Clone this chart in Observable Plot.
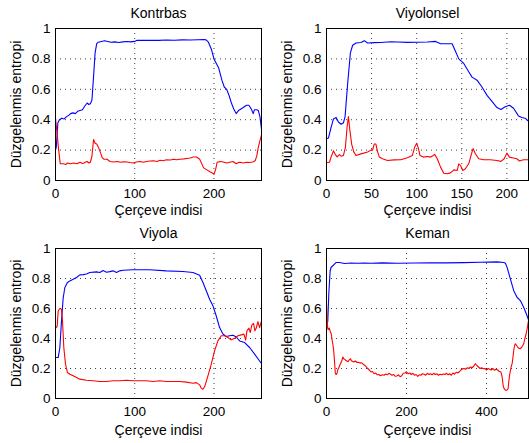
<!DOCTYPE html>
<html><head><meta charset="utf-8">
<script src="https://cdn.jsdelivr.net/npm/d3@7"></script>
<script src="https://cdn.jsdelivr.net/npm/@observablehq/plot@0.6"></script>
<style>
body{margin:0;background:#fff;}
#chart{position:relative;width:529px;height:443px;overflow:hidden;background:#fff;}
#chart > svg{position:absolute;}
</style></head><body><div id="chart"></div>
<script>
// ---- data (frame index, normalized entropy) ----
const yTicks = [0, 0.2, 0.4, 0.6, 0.8, 1];
const yLabel = "Düzgelenmis entropi";
const xLabel = "Çerçeve indisi";

const kontrbasTicks = [0, 100, 200];
const kontrbasBlue = [[0,0.2],[1,0.22],[2,0.3],[3,0.38],[5,0.40],[8,0.41],[11,0.405],[14,0.42],[17,0.43],[19,0.44],[22,0.445],[25,0.44],[28,0.455],[31,0.46],[34,0.465],[37,0.49],[40,0.51],[42,0.50],[44,0.505],[46,0.53],[48,0.68],[50,0.84],[52,0.90],[54,0.91],[58,0.915],[62,0.92],[66,0.915],[70,0.91],[75,0.912],[80,0.908],[85,0.912],[90,0.914],[95,0.912],[100,0.915],[103,0.922],[110,0.922],[120,0.923],[130,0.922],[140,0.924],[150,0.923],[160,0.925],[170,0.924],[180,0.926],[187,0.928],[190,0.925],[193,0.91],[197,0.86],[200,0.80],[203,0.77],[206,0.74],[210,0.66],[213,0.615],[216,0.60],[219,0.56],[222,0.51],[225,0.47],[228,0.44],[231,0.46],[234,0.47],[237,0.48],[241,0.495],[244,0.495],[246,0.48],[248,0.46],[249.5,0.44],[251,0.465],[254,0.465],[256,0.46],[258,0.42],[260,0.34]];
const kontrbasRed = [[0,0.41],[2,0.31],[4,0.2],[6,0.11],[10,0.11],[13,0.105],[15,0.115],[19,0.11],[23,0.115],[27,0.11],[31,0.12],[34,0.112],[36,0.115],[38,0.122],[40,0.125],[42,0.115],[44,0.12],[46,0.16],[48,0.27],[50,0.245],[52,0.24],[54.5,0.215],[57,0.18],[59,0.15],[61,0.14],[65,0.14],[69,0.125],[73,0.122],[78,0.125],[82,0.12],[86,0.123],[90,0.122],[94,0.118],[98,0.115],[102,0.122],[107,0.125],[111,0.12],[115,0.125],[119,0.128],[124,0.13],[128,0.125],[132,0.133],[136,0.13],[140,0.137],[145,0.135],[149,0.14],[153,0.137],[157,0.14],[162,0.142],[166,0.145],[170,0.148],[174,0.155],[178,0.155],[182,0.14],[187,0.083],[191,0.07],[195,0.057],[199,0.046],[200,0.04],[202,0.07],[204,0.12],[208,0.125],[212,0.122],[216,0.115],[220,0.12],[224,0.125],[228,0.11],[231,0.118],[233,0.12],[237,0.115],[241,0.12],[245,0.118],[249,0.122],[252,0.13],[254,0.16],[256,0.22],[258,0.26],[260,0.3]];

const viyolonselTicks = [0, 50, 100, 150, 200];
const viyolonselBlue = [[0,0.275],[2.2,0.28],[5.1,0.35],[7.7,0.405],[10.7,0.415],[13.2,0.385],[16.2,0.37],[18.8,0.38],[20.6,0.42],[23.5,0.64],[26.5,0.84],[29,0.89],[32.7,0.905],[38.2,0.908],[41.9,0.92],[45.6,0.905],[53,0.907],[60.3,0.908],[71.3,0.913],[78.7,0.911],[89.7,0.909],[100.7,0.91],[111.8,0.911],[121,0.915],[126.5,0.90],[133.8,0.9],[139.3,0.9],[143,0.85],[146.7,0.80],[152.2,0.77],[157.7,0.715],[161.4,0.68],[166.9,0.66],[172.4,0.615],[178,0.56],[183.5,0.52],[189,0.48],[193.4,0.467],[198.2,0.485],[202.9,0.495],[207.4,0.475],[212.9,0.425],[216.5,0.415],[220.2,0.41],[224,0.39]];
const viyolonselRed = [[0,0.117],[3.3,0.12],[5.1,0.155],[7.7,0.195],[9.9,0.17],[11.8,0.155],[14.3,0.17],[16.2,0.16],[18.8,0.165],[21,0.22],[22.8,0.35],[24.3,0.42],[25.7,0.34],[27.9,0.24],[30.1,0.19],[32.7,0.165],[38.2,0.175],[45.6,0.187],[49.3,0.2],[51.1,0.2],[52.9,0.24],[54.8,0.24],[56.6,0.19],[58.5,0.155],[62.1,0.143],[67.6,0.132],[75,0.136],[82.4,0.137],[89.7,0.15],[95.2,0.165],[97.8,0.22],[100,0.245],[101.5,0.22],[103.7,0.165],[107.4,0.154],[111.8,0.158],[115.4,0.154],[118.4,0.165],[119.9,0.172],[122.8,0.143],[126.5,0.088],[130.1,0.048],[133.8,0.044],[137.5,0.05],[141.2,0.07],[144.9,0.066],[146.7,0.11],[148.5,0.1],[151.1,0.066],[154,0.077],[157.7,0.11],[160.3,0.165],[162.5,0.21],[165.1,0.176],[168.8,0.143],[174.3,0.137],[181.6,0.137],[189,0.132],[193.4,0.126],[197.1,0.143],[200,0.18],[202.9,0.154],[207.4,0.148],[211,0.143],[214,0.128],[218.4,0.137],[224,0.137]];

const viyolaTicks = [0, 100, 200];
const viyolaBlue = [[0,0.273],[3.4,0.273],[5.5,0.34],[7.6,0.52],[9.7,0.67],[11.8,0.74],[15.1,0.773],[18.1,0.784],[22.3,0.795],[26.5,0.807],[30.7,0.824],[34.9,0.826],[39.1,0.83],[43.3,0.84],[51.7,0.844],[55.9,0.84],[60.1,0.853],[64.3,0.842],[68.5,0.846],[72.7,0.851],[76.9,0.84],[81.1,0.851],[85.3,0.855],[97.9,0.858],[118.9,0.858],[139.9,0.851],[160.9,0.847],[173.5,0.84],[181.9,0.822],[186.1,0.773],[190.3,0.718],[194.5,0.662],[198.7,0.618],[202.9,0.55],[207.1,0.473],[211.3,0.43],[215.5,0.413],[219.7,0.418],[223.9,0.422],[228.2,0.41],[232.4,0.384],[238.7,0.373],[245,0.34],[251.3,0.296],[257.6,0.25],[260,0.233]];
const viyolaRed = [[0,0.47],[2.1,0.48],[3.4,0.585],[5.5,0.6],[7.6,0.595],[8.8,0.52],[10.5,0.34],[12.6,0.23],[15.1,0.173],[18.1,0.162],[22.3,0.151],[26.5,0.14],[30.7,0.129],[39.1,0.122],[47.5,0.118],[55.9,0.113],[64.3,0.113],[72.7,0.118],[81.1,0.118],[89.5,0.122],[97.9,0.118],[106.3,0.118],[114.7,0.118],[123.1,0.113],[131.5,0.118],[139.9,0.113],[156.7,0.113],[165.1,0.109],[173.5,0.102],[177.7,0.106],[181.9,0.091],[184,0.069],[186.1,0.062],[188.2,0.078],[192.4,0.151],[196.6,0.229],[200.8,0.318],[205,0.384],[209.2,0.418],[213.4,0.418],[217.6,0.407],[221.8,0.391],[226.1,0.402],[230.3,0.418],[234.5,0.424],[237.8,0.429],[240,0.389],[241.6,0.451],[244.1,0.469],[245.8,0.44],[247.9,0.491],[250,0.5],[251.7,0.451],[253.4,0.47],[255.5,0.513],[257.6,0.473],[260,0.518]];

const kemanTicks = [0, 200, 400];
const kemanBlue = [[0,0.45],[3.3,0.52],[5.8,0.70],[9.1,0.85],[11.6,0.875],[15.8,0.885],[19.9,0.896],[24.1,0.907],[32.4,0.907],[44.8,0.9],[61.4,0.903],[78,0.902],[94.6,0.903],[111.2,0.902],[140,0.904],[177.6,0.902],[220,0.903],[260.6,0.905],[300,0.904],[343.6,0.906],[385,0.908],[426.6,0.911],[443.2,0.907],[447.3,0.902],[451.5,0.874],[459.8,0.796],[468.1,0.719],[476.3,0.675],[484.6,0.653],[492.9,0.608],[501.2,0.553],[505,0.524]];
const kemanRed = [[0,0.63],[2,0.52],[3,0.47],[5,0.46],[7,0.47],[9,0.45],[12,0.43],[14,0.39],[16,0.36],[18,0.32],[20,0.25],[22,0.17],[24,0.16],[26,0.165],[28,0.19],[30,0.2],[33,0.22],[35,0.232],[38,0.25],[41,0.277],[43,0.265],[45,0.262],[48,0.255],[51,0.25],[54,0.245],[57,0.258],[60,0.265],[62,0.252],[65,0.248],[68,0.243],[72,0.25],[76,0.24],[80,0.242],[84,0.236],[88,0.238],[92,0.228],[95,0.222],[99,0.212],[103,0.2],[107,0.19],[111,0.177],[115,0.18],[119,0.165],[123,0.17],[127,0.158],[131,0.16],[135,0.152],[140,0.158],[144,0.155],[148,0.163],[152,0.158],[156,0.168],[160,0.162],[164,0.155],[168,0.16],[172,0.148],[176,0.15],[180,0.158],[184,0.145],[188,0.152],[192,0.168],[196,0.17],[200,0.178],[204,0.165],[208,0.17],[212,0.16],[216,0.168],[220,0.155],[224,0.16],[228,0.148],[232,0.158],[236,0.155],[240,0.165],[244,0.162],[248,0.155],[252,0.168],[256,0.16],[260,0.165],[264,0.158],[268,0.168],[272,0.16],[276,0.165],[280,0.155],[284,0.162],[288,0.158],[292,0.163],[296,0.16],[300,0.168],[304,0.158],[308,0.165],[312,0.155],[316,0.17],[320,0.162],[324,0.175],[328,0.17],[332,0.178],[336,0.19],[340,0.198],[344,0.2],[348,0.195],[352,0.205],[356,0.2],[360,0.21],[364,0.205],[368,0.215],[372,0.232],[376,0.22],[380,0.21],[384,0.2],[388,0.205],[392,0.198],[396,0.2],[400,0.19],[404,0.2],[408,0.195],[412,0.19],[416,0.2],[420,0.188],[424,0.195],[428,0.19],[432,0.18],[436,0.178],[439,0.145],[442,0.08],[445,0.062],[448,0.055],[451,0.056],[454,0.065],[456,0.12],[458,0.16],[460,0.19],[462,0.215],[464,0.232],[466,0.27],[468,0.32],[470,0.35],[472,0.365],[475,0.355],[478,0.343],[481,0.335],[484,0.332],[487,0.338],[490,0.35],[493,0.365],[496,0.4],[499,0.43],[502,0.47],[505,0.52]];

// ---- layout ----
const FONT = '"Liberation Sans", Arial, Helvetica, sans-serif';
const panels = [
  {title: "Kontrbas", blue: kontrbasBlue, red: kontrbasRed, ticks: kontrbasTicks, xmax: 260,
   left: 0, top: 0, w: 264, h: 220, ml: 55, mr: 3, mt: 28, mb: 40, xl: 30},
  {title: "Viyolonsel", blue: viyolonselBlue, red: viyolonselRed, ticks: viyolonselTicks, xmax: 224,
   left: 264, top: 0, w: 265, h: 220, ml: 62, mr: 1, mt: 28, mb: 40, xl: 30},
  {title: "Viyola", blue: viyolaBlue, red: viyolaRed, ticks: viyolaTicks, xmax: 260,
   left: 0, top: 220, w: 264, h: 223, ml: 55, mr: 3, mt: 28, mb: 45, xl: 32},
  {title: "Keman", blue: kemanBlue, red: kemanRed, ticks: kemanTicks, xmax: 505,
   left: 264, top: 220, w: 265, h: 223, ml: 62, mr: 1, mt: 28, mb: 45, xl: 32}
];

const chart = document.getElementById("chart");
for (const p of panels) {
  const svg = Plot.plot({
    width: p.w, height: p.h,
    marginLeft: p.ml, marginRight: p.mr, marginTop: p.mt, marginBottom: p.mb,
    style: {fontFamily: FONT, fontSize: "13px", background: "white", overflow: "visible", color: "black"},
    x: {domain: [0, p.xmax]},
    y: {domain: [0, 1]},
    marks: [
      Plot.gridX(p.ticks, {stroke: "black", strokeOpacity: 0.75, strokeDasharray: "1,4"}),
      Plot.gridY(yTicks, {stroke: "black", strokeOpacity: 0.75, strokeDasharray: "1,4"}),
      Plot.axisX(p.ticks, {tickSize: 0, tickPadding: 8, label: null, fontSize: 13.5, tickFormat: d => String(d)}),
      Plot.axisY(yTicks, {tickSize: 0, tickPadding: 5, label: null, fontSize: 13.5, tickFormat: d => String(d)}),
      Plot.line(p.blue, {x: d => d[0], y: d => d[1], stroke: "#0000ff", strokeWidth: 1.1, clip: true}),
      Plot.line(p.red, {x: d => d[0], y: d => d[1], stroke: "#ff0000", strokeWidth: 1.1, clip: true}),
      Plot.frame({stroke: "black", strokeWidth: 1}),
      Plot.text([p.title], {frameAnchor: "top", lineAnchor: "middle", dy: -15, fontSize: 14, text: d => d}),
      Plot.text([xLabel], {frameAnchor: "bottom", lineAnchor: "middle", dy: p.xl, fontSize: 14, text: d => d}),
      Plot.text([yLabel], {frameAnchor: "left", lineAnchor: "middle", textAnchor: "middle", dx: -39, dy: 0, rotate: -90, fontSize: 14, text: d => d})
    ]
  });
  svg.style.left = p.left + "px";
  svg.style.top = p.top + "px";
  chart.appendChild(svg);
}
</script></body></html>
